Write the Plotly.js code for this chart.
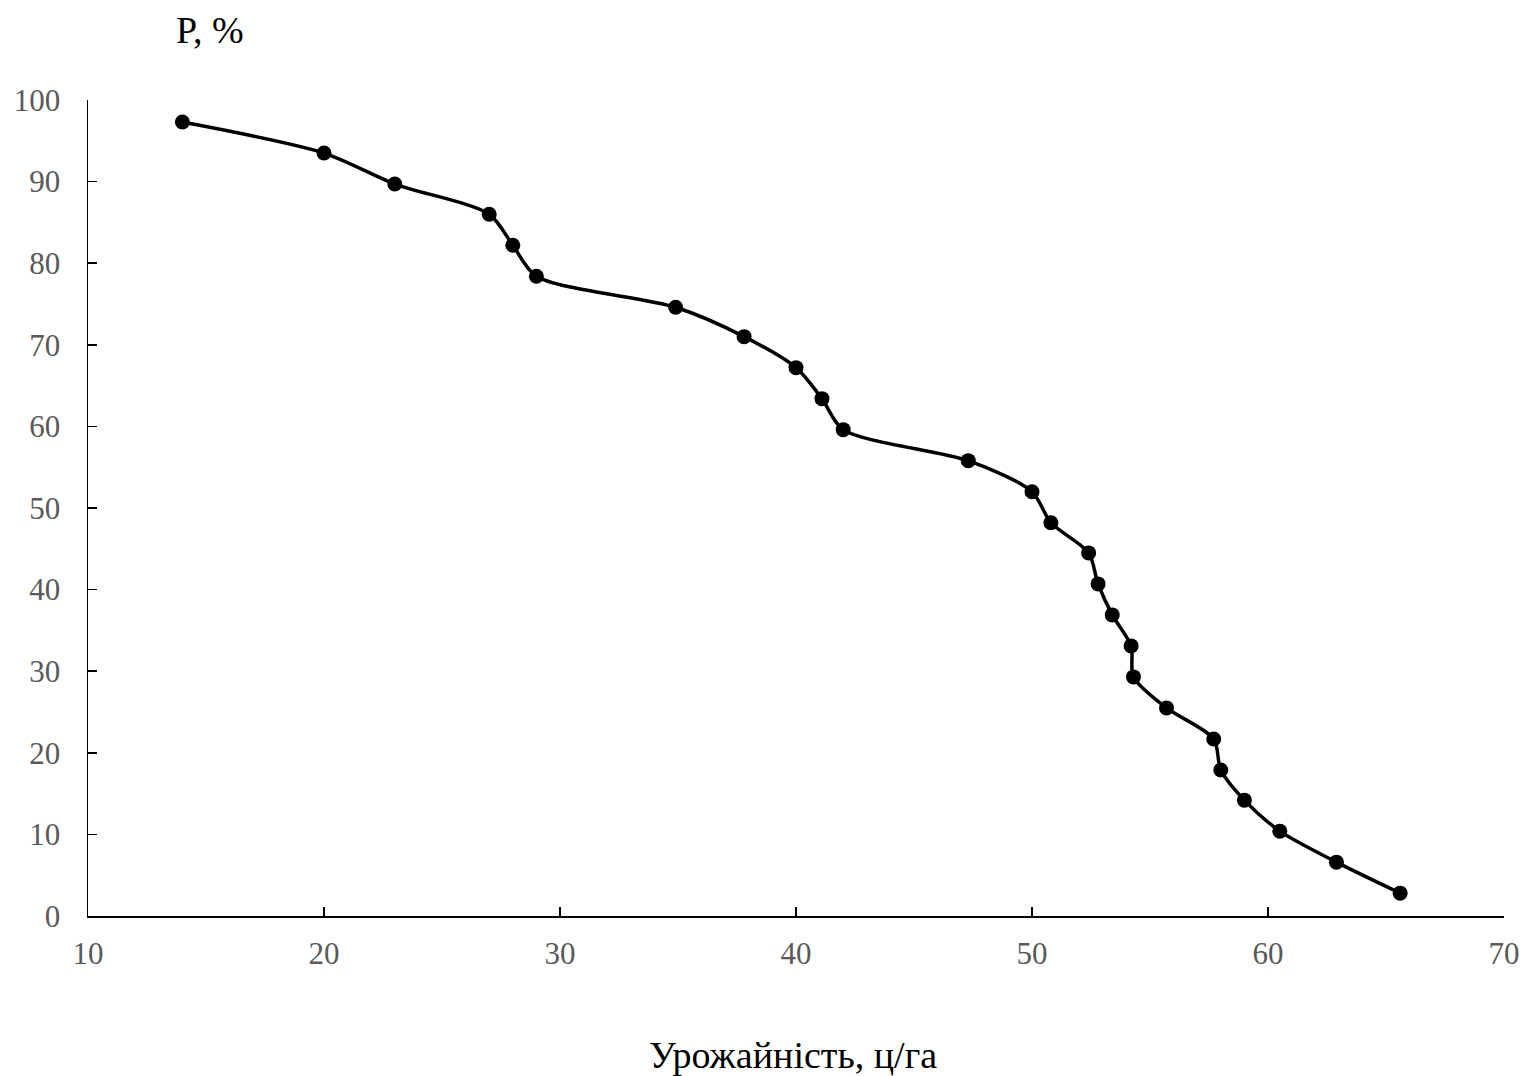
<!DOCTYPE html>
<html>
<head>
<meta charset="utf-8">
<script src="https://cdn.plot.ly/plotly-3.0.1.min.js"></script>
<style>html,body{margin:0;padding:0;background:#fff;}#chart{width:1526px;height:1076px;}</style>
</head>
<body>
<div id="chart"></div>
<script>
const yieldValues = [14.0, 20.0, 23.0, 27.0, 28.0, 29.0, 34.9, 37.8, 40.0, 41.1, 42.0, 47.3, 50.0, 50.8, 52.4, 52.8, 53.4, 54.2, 54.3, 55.7, 57.7, 58.0, 59.0, 60.5, 62.9, 65.6];
const probability = [97.3, 93.5, 89.7, 86.0, 82.2, 78.4, 74.6, 71.0, 67.2, 63.4, 59.6, 55.8, 52.0, 48.2, 44.5, 40.7, 36.9, 33.1, 29.3, 25.5, 21.7, 17.9, 14.2, 10.4, 6.6, 2.8];
const xTickVals = [10, 20, 30, 40, 50, 60, 70];
const yTickVals = [0, 10, 20, 30, 40, 50, 60, 70, 80, 90, 100];
const xTitle = "Урожайність, ц/га";
const yTitle = "P, %";

const font = "'Liberation Serif', 'Times New Roman', serif";
const trace = {
  x: yieldValues, y: probability, type: 'scatter', mode: 'lines+markers',
  line: {color: '#000', width: 3.5, shape: 'spline', smoothing: 0.8},
  marker: {color: '#000', size: 15},
  hoverinfo: 'skip'
};
const layout = {
  width: 1526, height: 1076,
  margin: {l: 88, r: 22, t: 100, b: 160},
  paper_bgcolor: '#fff', plot_bgcolor: '#fff',
  showlegend: false,
  font: {family: font, size: 31, color: '#595959'},
  xaxis: {
    range: [10, 70], tickvals: xTickVals, ticks: 'inside', ticklen: 9, tickwidth: 1.5, tickcolor: '#000',
    showline: true, linecolor: '#000', linewidth: 1.5, showgrid: false, zeroline: false,
    tickfont: {family: font, size: 31, color: '#595959'}, ticklabelstandoff: 9
  },
  yaxis: {
    range: [0, 100], tickvals: yTickVals, ticks: 'inside', ticklen: 9, tickwidth: 1.5, tickcolor: '#000',
    showline: true, linecolor: '#000', linewidth: 1.5, showgrid: false, zeroline: false,
    tickfont: {family: font, size: 31, color: '#595959'}, ticklabelstandoff: 20
  },
  annotations: [
    {text: yTitle, xref: 'paper', yref: 'paper', x: (210 - 88) / 1416, y: (916 - 30) / 816,
     xanchor: 'center', yanchor: 'middle', showarrow: false, font: {family: font, size: 38, color: '#000'}},
    {text: xTitle, xref: 'paper', yref: 'paper', x: (793 - 88) / 1416, y: (916 - 1055) / 816,
     xanchor: 'center', yanchor: 'middle', showarrow: false, font: {family: font, size: 38, color: '#000'}}
  ]
};
Plotly.newPlot('chart', [trace], layout, {displayModeBar: false, staticPlot: true});
</script>
</body>
</html>
